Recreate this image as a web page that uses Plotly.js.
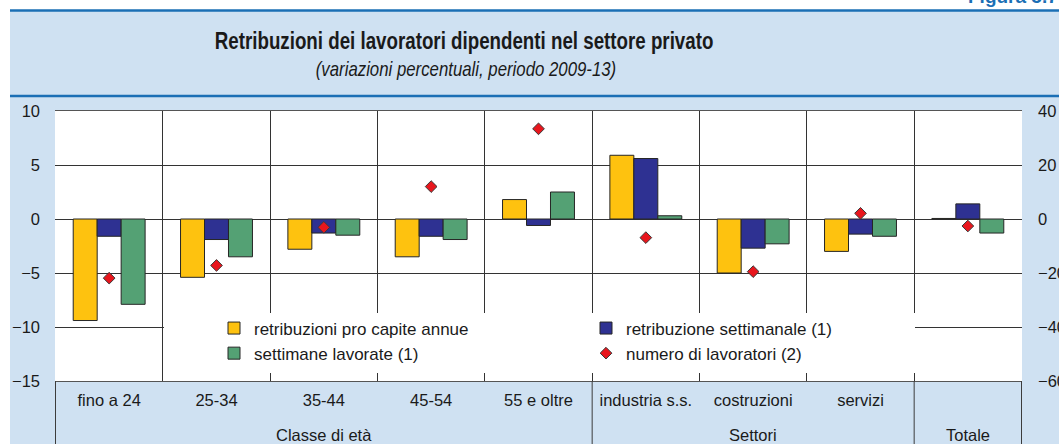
<!DOCTYPE html>
<html>
<head>
<meta charset="utf-8">
<script src="https://cdn.plot.ly/plotly-3.0.1.min.js"></script>
<style>
  html, body { margin: 0; padding: 0; background: #ffffff; }
  #chart { width: 1059px; height: 444px; }
  g.annotation[data-index="0"] text { transform-box: fill-box; transform-origin: center; transform: scaleX(0.815); }
  g.annotation[data-index="1"] text { transform-box: fill-box; transform-origin: center; transform: scaleX(0.84); }
</style>
</head>
<body>
<div id="chart"></div>
<script>
// ---- data ----
const categories = ["fino a 24", "25-34", "35-44", "45-54", "55 e oltre", "industria s.s.", "costruzioni", "servizi", "Totale"];
const tickLabels = ["fino a 24", "25-34", "35-44", "45-54", "55 e oltre", "industria s.s.", "costruzioni", "servizi", ""];
const retribuzioniProCapite = [-9.4, -5.4, -2.8, -3.5, 1.8, 5.9, -5.0, -3.0, 0.05];
const retribuzioneSettimanale = [-1.6, -1.9, -1.3, -1.6, -0.6, 5.6, -2.7, -1.4, 1.4];
const settimaneLavorate = [-7.9, -3.5, -1.5, -1.9, 2.5, 0.3, -2.3, -1.6, -1.3];
const numeroLavoratori = [-21.9, -17.2, -3.1, 12.0, 33.4, -6.9, -19.5, 2.1, -2.6];
const seriesNames = ["retribuzioni pro capite annue", "retribuzione settimanale (1)", "settimane lavorate (1)", "numero di lavoratori (2)"];
const groupLabels = ["Classe di età", "Settori", "Totale"];
const groupCenters = [2, 6, 8];
const groupBoundaries = [-0.5, 4.5, 7.5, 8.5];
const titleText = "Retribuzioni dei lavoratori dipendenti nel settore privato";
const subtitleText = "(variazioni percentuali, periodo 2009-13)";
const figureLabel = "Figura 5.7";

// ---- geometry helpers (pixels -> paper) ----
const W = 1059, H = 444;
const M = {l: 55, r: 37, t: 111, b: 63};
const PW = W - M.l - M.r, PH = H - M.t - M.b;
const px = x => (x - M.l) / PW;
const py = y => (H - M.b - y) / PH;

const FONT = '"Liberation Sans", Arial, sans-serif';
const TXT = '#1a1a1a';
const BG = '#cfe1f2';
const BLUE = '#1b6fb5';
const GRID = '#333333';

const barLine = {color: '#262626', width: 1};
const traces = [
  {type: 'bar', x: categories, y: retribuzioniProCapite, name: seriesNames[0],
   marker: {color: '#fec20f', line: barLine}},
  {type: 'bar', x: categories, y: retribuzioneSettimanale, name: seriesNames[1],
   marker: {color: '#2e3192', line: barLine}},
  {type: 'bar', x: categories, y: settimaneLavorate, name: seriesNames[2],
   marker: {color: '#54a174', line: barLine}},
  {type: 'scatter', mode: 'markers', x: categories, y: numeroLavoratori, name: seriesNames[3],
   yaxis: 'y2', marker: {symbol: 'diamond', size: 9, color: '#e8161d', line: {color: '#3a3a3a', width: 1}}}
];

const shapes = [
  {type: 'rect', xref: 'paper', yref: 'paper', x0: px(-5), x1: px(W + 5), y0: py(10), y1: py(-5),
   fillcolor: '#ffffff', line: {width: 0}, layer: 'below'},
  {type: 'rect', xref: 'paper', yref: 'paper', x0: px(-5), x1: px(10), y0: py(H + 5), y1: py(-5),
   fillcolor: '#ffffff', line: {width: 0}, layer: 'below'},
  {type: 'line', xref: 'paper', yref: 'paper', x0: px(10), x1: px(W + 5), y0: py(10.5), y1: py(10.5),
   line: {color: BLUE, width: 2.5}, layer: 'below'},
  {type: 'line', xref: 'paper', yref: 'paper', x0: px(10), x1: px(W + 5), y0: py(96), y1: py(96),
   line: {color: BLUE, width: 2.5}, layer: 'below'},
  {type: 'rect', xref: 'paper', yref: 'paper', x0: px(164), x1: px(915), y0: py(373), y1: py(313),
   fillcolor: '#ffffff', line: {width: 0}, layer: 'above'}
];
groupBoundaries.forEach(b => shapes.push({
  type: 'line', xref: 'x', yref: 'paper', x0: b, x1: b, y0: py(H + 2), y1: 0,
  line: {color: '#3c3c3c', width: 1}, layer: 'above'
}));

const annotations = [
  {text: '<b>' + titleText + '</b>', xref: 'paper', yref: 'paper', x: px(464), y: py(41),
   xanchor: 'center', yanchor: 'middle', showarrow: false, font: {family: FONT, size: 23, color: TXT}},
  {text: '<i>' + subtitleText + '</i>', xref: 'paper', yref: 'paper', x: px(466), y: py(69),
   xanchor: 'center', yanchor: 'middle', showarrow: false, font: {family: FONT, size: 20, color: TXT}},
  {text: '<b>' + figureLabel + '</b>', xref: 'paper', yref: 'paper', x: px(966), y: py(9),
   xanchor: 'left', yanchor: 'bottom', showarrow: false, font: {family: FONT, size: 19, color: BLUE}}
];
groupLabels.forEach((g, i) => annotations.push({
  text: g, xref: 'x', yref: 'paper', x: groupCenters[i], y: py(435), xanchor: 'center', yanchor: 'middle',
  showarrow: false, font: {family: FONT, size: 16.5, color: TXT}
}));

const layout = {
  width: W, height: H,
  margin: M,
  paper_bgcolor: BG,
  plot_bgcolor: '#ffffff',
  font: {family: FONT, size: 16.5, color: TXT},
  barmode: 'group',
  bargap: 0.33,
  bargroupgap: 0,
  showlegend: true,
  legend: {
    orientation: 'h', x: px(214), y: py(310.5), xanchor: 'left', yanchor: 'top',
    bgcolor: 'rgba(0,0,0,0)', borderwidth: 0, entrywidth: 327, entrywidthmode: 'pixels',
    itemwidth: 30, font: {family: FONT, size: 17, color: TXT}, traceorder: 'normal'
  },
  xaxis: {
    type: 'category', tickson: 'boundaries', showgrid: true, gridcolor: GRID, gridwidth: 1,
    tickmode: 'array', tickvals: categories, ticktext: tickLabels,
    ticks: '', ticklabelstandoff: 4, showline: true, mirror: true, linecolor: '#555555', linewidth: 1,
    tickfont: {family: FONT, size: 16.5, color: TXT}, fixedrange: true
  },
  yaxis: {
    range: [-15, 10], dtick: 5, tick0: 0, showgrid: true, gridcolor: GRID, gridwidth: 1,
    zeroline: true, zerolinecolor: GRID, zerolinewidth: 1, ticks: '', ticklabelstandoff: 14,
    tickfont: {family: FONT, size: 16.5, color: TXT}, fixedrange: true
  },
  yaxis2: {
    overlaying: 'y', side: 'right', range: [-60, 40], dtick: 20, tick0: 0, showgrid: false,
    zeroline: false, ticks: '', ticklabelstandoff: 15, showline: false,
    tickfont: {family: FONT, size: 16.5, color: TXT}, fixedrange: true
  },
  shapes: shapes,
  annotations: annotations
};

Plotly.newPlot('chart', traces, layout, {displayModeBar: false, staticPlot: true});
</script>
</body>
</html>
